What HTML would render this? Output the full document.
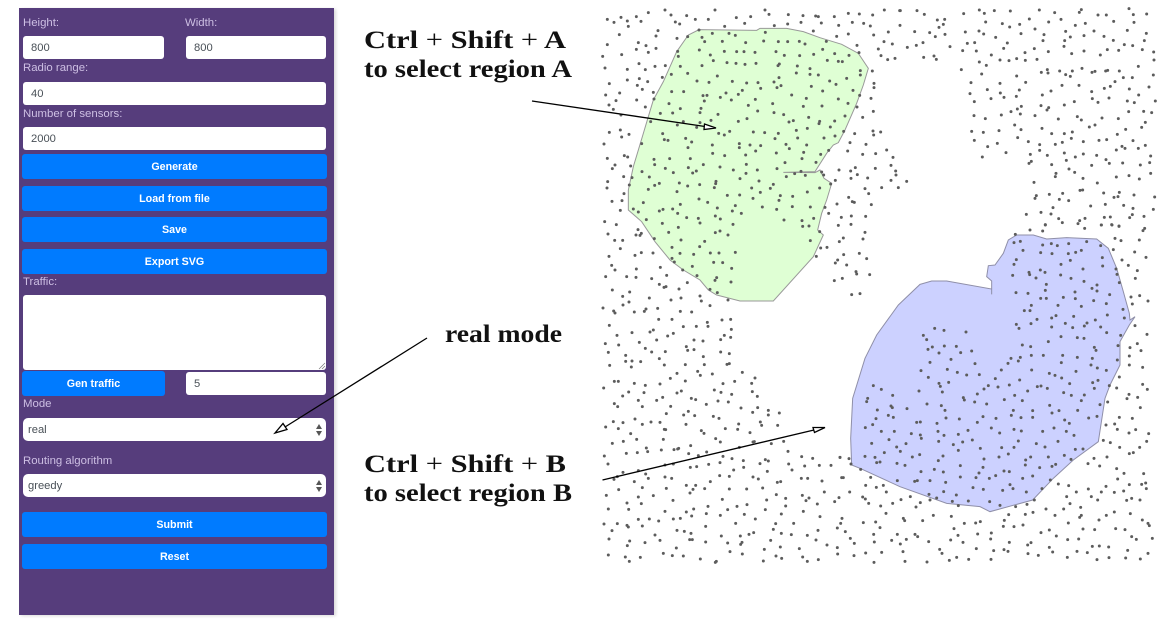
<!DOCTYPE html>
<html><head><meta charset="utf-8"><style>
html,body{margin:0;padding:0;background:#fff}
body{width:1166px;height:624px;position:relative;overflow:hidden;font-family:"Liberation Sans",sans-serif}
.p{position:absolute;left:19px;top:8px;width:315px;height:607px;background:#563d7c;box-shadow:2px 1px 3px rgba(0,0,0,.15)}
.l,.i,.b,.s,.t{position:absolute;box-sizing:border-box}
.l{color:#cdbfe3;font-size:11.4px;line-height:14px;white-space:nowrap;margin-top:1px}
.i,.s,.t{background:#fff;border-radius:3px;color:#495057;font-size:11.2px;height:23px;line-height:25px}
.i{padding-left:8px}
.s{padding-left:5px;border-radius:5px;left:23px;width:303px}
.b{background:#007bff;color:#fff;border-radius:3px;font-size:10.7px;font-weight:bold;text-align:center;height:25px;line-height:27px;left:22px;width:305px}
.up,.dn{position:absolute;right:4px;width:0;height:0;border-left:3px solid transparent;border-right:3px solid transparent}
.up{top:6px;border-bottom:5px solid #555}.dn{top:13px;border-top:5px solid #555}
svg{position:absolute;left:0;top:0}
</style></head><body>
<div class="p"></div>
<div class="l" style="left:23px;top:15px">Height:</div>
<div class="l" style="left:185px;top:15px">Width:</div>
<div class="i" style="left:23px;top:36px;width:141px">800</div>
<div class="i" style="left:186px;top:36px;width:140px">800</div>
<div class="l" style="left:23px;top:60px">Radio range:</div>
<div class="i" style="left:23px;top:82px;width:303px">40</div>
<div class="l" style="left:23px;top:106px">Number of sensors:</div>
<div class="i" style="left:23px;top:127px;width:303px">2000</div>
<div class="b" style="top:154px">Generate</div>
<div class="b" style="top:186px">Load from file</div>
<div class="b" style="top:217px">Save</div>
<div class="b" style="top:249px">Export SVG</div>
<div class="l" style="left:23px;top:274px">Traffic:</div>
<div class="t" style="left:23px;top:295px;width:303px;height:75px"></div>
<div class="b" style="top:371px;width:143px">Gen traffic</div>
<div class="i" style="left:186px;top:372px;width:140px">5</div>
<div class="l" style="left:23px;top:396px">Mode</div>
<div class="s" style="top:418px">real<span class="up"></span><span class="dn"></span></div>
<div class="l" style="left:23px;top:453px">Routing algorithm</div>
<div class="s" style="top:474px">greedy<span class="up"></span><span class="dn"></span></div>
<div class="b" style="top:512px">Submit</div>
<div class="b" style="top:544px">Reset</div>

<svg width="1166" height="624" viewBox="0 0 1166 624">
<path d="M319 369L325 363M322 369L325 366" stroke="#777" stroke-width=".7" fill="none"/>
<g transform="translate(600,0) scale(.33333)">
<polygon fill="#dfffd4" stroke="#999" stroke-width="3" points="297,89 470,91 480,85 560,85 610,95 660,113 725,133 775,160 805,205 790,255 770,310 735,390 715,428 700,435 680,460 645,515 550,517 645,518 660,510 672,535 695,550 680,600 665,640 653,690 670,705 640,770 520,903 420,903 350,885 325,870 300,840 250,810 210,780 165,725 125,665 85,630 85,570 100,500 130,400 160,300 190,245 230,155 265,105"/>
<path fill="none" stroke="#5c5c5c" stroke-width="9" stroke-linecap="round" d="M345 30h0M195 30h0M495 30h0M507 43h0M213 45h0M260 47h0M145 38h0M22 58h0M42 67h0M63 52h0M82 63h0M85 79h0M109 50h0M123 64h0M226 66h0M239 72h0M286 58h0M325 58h0M409 53h0M452 50h0M434 70h0M374 79h0M523 77h0M565 44h0M563 72h0M609 47h0M603 67h0M647 48h0M655 50h0M664 69h0M703 50h0M716 76h0M745 40h0M778 42h0M757 67h0M791 70h0M811 78h0M818 45h0M853 30h0M899 32h0M174 92h0M168 108h0M58 104h0M297 90h0M640 93h0M710 109h0M745 102h0M821 105h0M865 96h0M306 112h0M337 100h0M387 100h0M406 106h0M496 97h0M231 115h0M263 110h0M314 125h0M367 124h0M437 128h0M491 123h0M535 125h0M563 125h0M598 124h0M615 132h0M679 124h0M771 136h0M852 125h0M877 132h0M22 134h0M115 128h0M138 137h0M109 148h0M168 145h0M145 157h0M233 154h0M298 150h0M373 154h0M410 155h0M432 155h0M465 157h0M528 155h0M553 166h0M599 167h0M641 163h0M668 148h0M704 161h0M747 166h0M777 158h0M835 147h0M843 167h0M863 179h0M885 175h0M8 169h0M65 164h0M235 169h0M331 165h0M340 182h0M381 188h0M408 190h0M435 193h0M468 190h0M538 192h0M534 197h0M592 198h0M682 181h0M715 184h0M727 185h0M117 191h0M165 199h0M196 197h0M241 199h0M306 197h0M15 204h0M82 208h0M136 209h0M630 206h0M589 219h0M630 223h0M655 225h0M781 212h0M781 225h0M817 213h0M214 223h0M263 220h0M352 228h0M187 232h0M537 233h0M740 235h0M82 240h0M118 236h0M143 245h0M291 243h0M327 247h0M397 244h0M440 249h0M474 248h0M522 246h0M689 243h0M708 253h0M822 250h0M822 263h0M28 251h0M112 256h0M127 268h0M543 257h0M531 263h0M482 265h0M634 259h0M160 277h0M215 275h0M251 275h0M427 271h0M668 273h0M759 271h0M17 285h0M59 279h0M162 297h0M309 287h0M321 286h0M378 279h0M415 283h0M361 292h0M575 285h0M779 286h0M48 302h0M110 300h0M313 303h0M394 300h0M466 298h0M619 295h0M715 297h0M813 295h0M27 315h0M136 321h0M207 311h0M445 316h0M518 311h0M610 319h0M666 318h0M744 310h0M771 321h0M40 328h0M241 326h0M303 325h0M300 338h0M473 333h0M522 338h0M551 344h0M820 334h0M181 340h0M218 339h0M354 343h0M626 352h0M735 348h0M788 352h0M63 345h0M152 365h0M250 365h0M333 361h0M441 356h0M415 364h0M567 366h0M580 362h0M659 364h0M657 371h0M704 363h0M232 375h0M300 368h0M290 382h0M691 381h0M622 385h0M61 390h0M28 397h0M87 403h0M65 411h0M188 401h0M356 400h0M373 405h0M389 394h0M460 396h0M494 398h0M535 400h0M589 391h0M731 394h0M764 401h0M819 393h0M821 405h0M842 396h0M193 419h0M204 421h0M257 415h0M275 426h0M525 416h0M593 414h0M672 414h0M705 408h0M12 432h0M125 431h0M264 443h0M337 435h0M418 431h0M450 435h0M482 437h0M418 443h0M558 433h0M568 446h0M620 435h0M750 428h0M798 433h0M860 450h0M743 453h0M467 453h0M338 460h0M374 467h0M529 459h0M611 457h0M686 451h0M437 465h0M662 463h0M788 463h0M827 461h0M879 472h0M22 475h0M73 467h0M83 471h0M162 478h0M209 476h0M271 476h0M606 476h0M45 495h0M37 506h0M164 494h0M92 498h0M196 505h0M265 503h0M310 494h0M360 501h0M439 493h0M555 488h0M648 487h0M873 496h0M126 515h0M220 518h0M278 519h0M289 513h0M400 510h0M438 520h0M472 510h0M531 506h0M603 514h0M665 516h0M717 510h0M752 513h0M766 503h0M826 505h0M887 513h0M888 525h0M71 530h0M148 531h0M96 533h0M559 530h0M584 521h0M616 526h0M671 525h0M772 524h0M753 535h0M803 534h0M420 536h0M23 545h0M873 541h0M477 543h0M348 544h0M347 551h0M343 563h0M238 549h0M178 550h0M164 556h0M88 555h0M263 558h0M299 554h0M520 553h0M511 565h0M455 564h0M706 541h0M692 552h0M659 564h0M21 564h0M145 568h0M845 563h0M895 563h0M795 566h0M231 575h0M481 577h0M622 576h0M72 581h0M382 586h0M419 585h0M541 587h0M578 589h0M806 581h0M297 597h0M459 595h0M537 601h0M36 604h0M66 602h0M130 608h0M323 607h0M241 613h0M406 617h0M746 592h0M757 605h0M763 607h0M711 612h0M814 614h0M487 621h0M577 620h0M631 621h0M675 622h0M352 624h0M100 627h0M218 627h0M189 628h0M178 633h0M61 631h0M115 636h0M530 628h0M397 633h0M233 640h0M424 640h0M686 640h0M346 648h0M361 657h0M260 653h0M295 655h0M139 659h0M552 660h0M606 662h0M641 655h0M724 652h0M754 648h0M797 649h0M14 665h0M187 670h0M300 669h0M399 673h0M49 674h0M235 682h0M608 679h0M627 678h0M715 676h0M753 673h0M114 689h0M206 697h0M346 698h0M360 693h0M384 705h0M659 695h0M795 697h0M24 702h0M108 705h0M124 700h0M120 706h0M163 716h0M243 720h0M314 724h0M631 722h0M44 721h0M68 721h0M730 714h0M718 725h0M789 717h0M299 740h0M216 742h0M61 746h0M662 744h0M681 742h0M124 758h0M159 759h0M240 760h0M281 763h0M331 759h0M357 759h0M406 757h0M105 766h0M27 769h0M649 769h0M731 764h0M778 760h0M216 775h0M800 776h0M223 786h0M341 787h0M368 788h0M713 780h0M706 789h0M35 796h0M45 810h0M109 807h0M181 802h0M277 799h0M395 805h0M740 795h0M248 810h0M768 815h0M770 822h0M809 824h0M17 830h0M80 830h0M108 832h0M155 836h0M200 826h0M291 827h0M350 833h0M345 841h0M727 835h0M703 842h0M262 848h0M393 846h0M178 853h0M198 860h0M192 862h0M37 870h0M237 867h0M330 868h0M89 876h0M352 878h0M755 884h0M780 881h0M68 889h0M148 894h0M243 894h0M300 888h0M213 900h0M304 903h0M384 900h0M87 906h0M69 915h0M330 917h0M9 924h0M138 927h0M173 925h0"/>
</g>
<g transform="translate(840,225) scale(.33333)">
<polygon fill="#ccd1ff" stroke="#8f8fa8" stroke-width="3" points="240,178 275,168 320,168 455,192 455,208 455,168 440,155 445,122 465,120 490,85 505,45 530,30 580,30 620,42 680,38 770,42 805,70 830,130 850,200 868,265 870,285 885,275 868,300 840,350 840,420 810,480 795,520 775,650 700,705 640,760 578,825 450,860 420,845 320,835 180,785 60,730 35,720 32,640 38,520 75,400 110,330 175,240"/>
<path fill="none" stroke="#5c5c5c" stroke-width="9" stroke-linecap="round" d="M526 28h0M570 15h0M608 18h0M734 10h0M616 0h0M784 0h0M816 0h0M837 4h0M914 10h0M909 17h0M825 40h0M843 47h0M898 45h0M740 50h0M884 81h0M918 97h0M820 74h0M846 105h0M865 121h0M892 137h0M886 160h0M873 216h0M899 212h0M924 228h0M877 237h0M885 302h0M921 328h0M522 53h0M541 49h0M549 76h0M608 60h0M634 56h0M652 62h0M686 56h0M782 62h0M602 83h0M636 86h0M685 86h0M707 82h0M724 76h0M787 98h0M529 104h0M522 118h0M663 118h0M691 106h0M788 123h0M828 132h0M729 132h0M601 135h0M567 142h0M569 149h0M615 142h0M518 151h0M588 159h0M662 150h0M693 160h0M831 148h0M838 173h0M732 169h0M619 178h0M771 180h0M616 196h0M756 190h0M771 198h0M528 203h0M564 205h0M705 201h0M809 209h0M602 220h0M619 220h0M670 217h0M706 221h0M761 227h0M799 236h0M574 241h0M654 241h0M724 244h0M553 257h0M570 257h0M849 253h0M802 270h0M853 279h0M648 272h0M635 279h0M701 274h0M591 283h0M766 285h0M741 294h0M733 303h0M676 295h0M698 308h0M782 306h0M573 296h0M529 298h0M537 310h0M635 306h0M800 323h0M842 331h0M663 335h0M712 338h0M732 340h0M625 350h0M284 310h0M312 316h0M378 321h0M250 331h0M260 344h0M277 366h0M264 373h0M313 363h0M349 364h0M362 383h0M395 378h0M297 384h0M547 360h0M572 365h0M834 362h0M763 367h0M768 376h0M870 368h0M892 356h0M903 377h0M574 391h0M610 391h0M668 391h0M712 397h0M757 400h0M541 397h0M513 400h0M333 403h0M270 412h0M405 416h0M504 415h0M535 408h0M664 413h0M832 405h0M868 393h0M868 420h0M753 420h0M772 429h0M908 427h0M322 433h0M243 437h0M352 442h0M380 450h0M418 449h0M484 435h0M575 435h0M628 445h0M645 451h0M665 459h0M708 439h0M799 436h0M265 457h0M466 461h0M539 465h0M838 456h0M297 475h0M326 472h0M301 484h0M100 482h0M124 493h0M237 498h0M307 501h0M445 482h0M432 492h0M474 486h0M508 480h0M592 485h0M603 483h0M622 490h0M563 498h0M671 503h0M689 476h0M758 473h0M774 466h0M763 490h0M808 482h0M830 489h0M908 478h0M922 493h0M412 507h0M524 511h0M694 511h0M733 510h0M158 511h0M867 508h0M893 517h0M861 521h0M83 520h0M80 530h0M370 518h0M373 525h0M404 531h0M440 537h0M493 524h0M547 527h0M724 527h0M803 531h0M261 537h0M304 542h0M780 539h0M112 555h0M153 543h0M157 548h0M201 551h0M315 556h0M629 541h0M657 557h0M636 564h0M520 556h0M578 557h0M713 556h0M901 548h0M145 571h0M160 577h0M108 581h0M318 579h0M429 575h0M358 582h0M468 580h0M514 571h0M543 578h0M578 577h0M746 579h0M771 574h0M838 577h0M877 580h0M230 592h0M241 591h0M98 599h0M291 595h0M412 592h0M674 585h0M688 595h0M798 600h0M824 597h0M76 608h0M454 609h0M522 613h0M544 618h0M642 609h0M832 613h0M887 614h0M124 619h0M163 619h0M214 626h0M294 619h0M384 616h0M479 624h0M608 619h0M679 619h0M702 631h0M867 624h0M926 626h0M241 630h0M312 631h0M355 628h0M244 640h0M147 644h0M397 645h0M535 648h0M654 649h0M790 646h0M811 653h0M296 649h0M368 651h0M95 655h0M198 656h0M340 659h0M615 666h0M589 656h0M421 670h0M485 668h0M522 667h0M706 673h0M729 672h0M170 666h0M355 676h0M181 679h0M133 683h0M880 683h0M868 686h0M839 667h0M899 667h0M920 649h0M239 689h0M217 696h0M309 693h0M75 694h0M105 697h0M477 696h0M505 687h0M572 696h0M625 696h0M673 691h0M762 700h0M801 696h0M0 697h0M27 701h0M432 702h0M295 707h0M557 705h0M693 703h0M110 713h0M120 711h0M33 717h0M171 715h0M195 721h0M361 722h0M556 720h0M636 724h0M647 718h0M599 728h0M744 716h0M779 723h0M830 731h0M429 727h0M283 733h0M62 733h0M243 740h0M310 741h0M492 738h0M508 740h0M417 744h0M852 745h0M911 746h0M5 758h0M10 758h0M92 757h0M361 756h0M408 758h0M448 760h0M467 752h0M548 760h0M578 753h0M172 767h0M224 769h0M232 767h0M270 767h0M317 772h0M631 765h0M833 762h0M77 781h0M109 787h0M130 781h0M510 779h0M519 791h0M399 788h0M430 793h0M488 796h0M655 777h0M686 782h0M606 791h0M798 784h0M868 779h0M905 778h0M917 774h0M919 791h0M29 801h0M139 801h0M311 800h0M559 801h0M709 801h0M745 792h0M784 801h0M823 802h0M851 798h0M267 808h0M349 810h0M68 816h0M76 822h0M290 819h0M211 815h0M680 815h0M754 815h0M183 824h0M270 825h0M337 829h0M385 828h0M449 830h0M583 825h0M773 825h0M860 826h0M875 820h0M900 825h0M86 835h0M158 835h0M241 833h0M228 846h0M122 843h0M355 842h0M480 841h0M527 845h0M561 838h0M618 852h0M690 836h0M671 852h0M722 847h0M138 865h0M280 871h0M334 874h0M506 869h0M579 862h0M645 871h0M724 871h0M719 877h0M823 861h0M799 871h0M871 866h0M6 880h0M2 895h0M70 893h0M107 891h0M190 880h0M194 887h0M248 887h0M373 895h0M407 894h0M421 890h0M493 886h0M556 868h0M685 894h0M777 885h0M907 885h0M924 895h0"/>
</g>
<g transform="translate(840,500) scale(.33333)">
<path fill="none" stroke="#5c5c5c" stroke-width="9" stroke-linecap="round" d="M490 79h0M522 80h0M549 75h0M120 83h0M342 86h0M628 90h0M729 87h0M764 89h0M827 86h0M855 89h0M928 77h0M16 95h0M101 103h0M172 103h0M225 103h0M233 110h0M354 106h0M413 102h0M454 99h0M603 98h0M649 108h0M31 115h0M155 121h0M199 118h0M266 125h0M332 120h0M452 117h0M683 119h0M716 117h0M875 110h0M889 118h0M937 115h0M43 130h0M103 126h0M181 132h0M369 127h0M508 127h0M563 135h0M573 128h0M628 142h0M757 139h0M778 138h0M806 141h0M299 148h0M409 146h0M492 149h0M504 154h0M461 152h0M306 160h0M77 159h0M125 157h0M189 155h0M638 156h0M711 154h0M742 158h0M863 151h0M924 160h0M42 167h0M564 161h0M595 166h0M350 172h0M682 172h0M807 173h0M857 174h0M901 177h0M328 181h0M386 178h0M453 178h0M771 179h0M102 187h0M195 184h0M261 186h0"/>
</g>
<g transform="translate(900,0) scale(.33333)">
<path fill="none" stroke="#5c5c5c" stroke-width="9" stroke-linecap="round" d="M1 32h0M51 32h0M73 43h0M112 60h0M134 58h0M130 73h0M117 82h0M0 76h0M44 95h0M89 98h0M106 110h0M135 103h0M22 142h0M49 136h0M69 128h0M150 140h0M71 172h0M102 168h0M109 178h0M191 41h0M238 30h0M253 40h0M283 32h0M331 33h0M257 66h0M307 71h0M329 81h0M359 73h0M388 57h0M418 30h0M464 38h0M446 66h0M483 58h0M538 37h0M544 29h0M526 76h0M556 70h0M594 45h0M619 45h0M641 64h0M687 26h0M700 44h0M740 42h0M702 67h0M196 96h0M237 93h0M251 102h0M287 112h0M363 101h0M405 87h0M432 104h0M497 94h0M511 111h0M552 107h0M582 93h0M612 109h0M682 91h0M739 100h0M202 130h0M224 128h0M322 129h0M429 122h0M494 122h0M640 121h0M733 122h0M188 152h0M229 153h0M311 145h0M403 146h0M375 158h0M445 155h0M492 139h0M515 161h0M552 153h0M622 149h0M656 151h0M673 134h0M698 137h0M727 149h0M761 156h0M274 165h0M601 165h0M238 186h0M259 196h0M300 180h0M327 182h0M350 176h0M376 181h0M411 178h0M762 180h0M184 209h0M245 222h0M350 228h0M424 217h0M442 209h0M444 219h0M479 213h0M497 224h0M511 229h0M517 213h0M546 205h0M576 217h0M585 214h0M617 213h0M623 211h0M658 213h0M715 199h0M760 225h0M670 233h0M697 233h0M213 248h0M300 250h0M377 247h0M645 245h0M486 256h0M537 256h0M631 259h0M613 265h0M262 269h0M358 270h0M453 273h0M575 275h0M688 267h0M747 261h0M210 281h0M301 279h0M427 285h0M312 292h0M349 289h0M716 285h0M273 296h0M577 296h0M627 294h0M223 305h0M523 305h0M594 307h0M682 303h0M703 308h0M766 303h0M423 317h0M493 315h0M364 319h0M352 327h0M446 323h0M441 330h0M333 335h0M686 335h0M731 334h0M755 338h0M222 347h0M304 345h0M361 342h0M405 347h0M532 350h0M256 356h0M475 357h0M544 360h0M606 354h0M655 356h0M736 367h0M344 375h0M585 375h0M568 381h0M426 385h0M363 389h0M677 388h0M725 382h0M215 394h0M250 397h0M297 392h0M455 401h0M493 401h0M517 396h0M652 403h0M223 421h0M353 413h0M514 415h0M385 425h0M292 430h0M263 440h0M419 434h0M466 433h0M487 427h0M550 425h0M597 421h0M620 419h0M699 422h0M666 439h0M675 445h0M649 450h0M715 445h0M736 436h0M318 458h0M391 463h0M419 451h0M442 466h0M493 459h0M247 471h0M526 471h0M550 462h0M590 466h0M752 468h0M499 481h0M394 484h0M387 490h0M618 479h0M628 490h0M668 489h0M455 494h0M575 496h0M721 495h0M749 488h0M507 507h0M524 517h0M468 520h0M466 530h0M549 535h0M649 531h0M687 527h0M718 537h0M752 520h0M402 547h0M592 549h0M20 544h0M540 571h0M548 570h0M611 579h0M658 577h0M702 585h0M448 583h0M488 580h0M409 587h0M405 595h0M478 598h0M506 602h0M642 592h0M654 590h0M764 591h0M459 623h0M572 618h0M616 613h0M671 616h0M699 625h0M760 628h0M379 643h0M423 637h0M453 642h0M697 644h0M613 652h0M631 651h0M689 653h0M732 649h0M476 656h0M555 655h0M539 662h0M487 668h0M534 671h0M436 674h0M604 675h0M635 674h0M657 678h0"/>
</g>
<g transform="translate(600,305) scale(.33333)">
<path fill="none" stroke="#5c5c5c" stroke-width="9" stroke-linecap="round" d="M41 18h0M45 24h0M103 21h0M133 19h0M241 19h0M275 21h0M176 43h0M216 43h0M322 52h0M366 45h0M392 43h0M28 61h0M250 65h0M289 64h0M324 64h0M394 73h0M150 81h0M160 75h0M96 83h0M51 91h0M203 93h0M220 85h0M373 91h0M392 97h0M362 104h0M170 105h0M118 112h0M282 105h0M309 108h0M16 116h0M56 120h0M259 125h0M136 130h0M263 136h0M282 134h0M25 142h0M155 141h0M196 140h0M362 141h0M388 146h0M77 151h0M310 155h0M178 161h0M77 169h0M96 168h0M122 170h0M29 181h0M94 186h0M193 180h0M256 179h0M313 179h0M381 178h0M388 176h0M293 199h0M301 211h0M427 202h0M231 205h0M337 207h0M211 220h0M465 219h0M43 229h0M55 229h0M103 235h0M136 241h0M180 237h0M256 228h0M369 236h0M404 229h0M455 235h0M11 249h0M86 261h0M132 263h0M231 264h0M244 258h0M343 255h0M363 262h0M395 268h0M457 260h0M68 273h0M472 274h0M115 286h0M170 286h0M188 277h0M274 280h0M287 284h0M354 288h0M385 291h0M43 296h0M53 305h0M127 305h0M212 304h0M319 298h0M423 309h0M473 308h0M505 316h0M265 319h0M199 326h0M251 330h0M284 332h0M340 334h0M357 340h0M458 322h0M505 330h0M538 324h0M105 342h0M40 350h0M69 353h0M127 358h0M153 351h0M180 352h0M258 358h0M481 351h0M485 361h0M416 357h0M533 361h0M17 366h0M55 371h0M193 373h0M197 374h0M304 377h0M376 371h0M413 373h0M92 386h0M312 385h0M450 383h0M110 403h0M190 403h0M347 401h0M37 415h0M70 409h0M361 411h0M272 422h0M459 411h0M463 410h0M514 416h0M551 409h0M418 427h0M139 429h0M143 440h0M184 435h0M222 434h0M233 432h0M236 430h0M79 445h0M112 443h0M266 446h0M320 441h0M564 439h0M13 453h0M295 452h0M369 454h0M605 455h0M638 460h0M720 457h0M396 461h0M430 467h0M496 464h0M505 468h0M360 473h0M480 476h0M24 477h0M326 478h0M220 477h0M195 480h0M566 477h0M614 483h0M658 481h0M693 481h0M271 487h0M290 485h0M431 487h0M576 495h0M401 495h0M115 497h0M69 502h0M502 499h0M137 507h0M52 515h0M145 520h0M195 516h0M215 520h0M359 512h0M388 514h0M459 516h0M475 522h0M604 520h0M623 520h0M42 523h0M103 530h0M331 530h0M532 532h0M542 530h0M666 528h0M259 541h0M287 541h0M127 548h0M199 550h0M279 553h0M314 551h0M388 552h0M440 552h0M488 549h0M56 554h0M270 564h0M673 561h0M19 571h0M160 572h0M115 576h0M529 569h0M607 571h0M367 583h0M219 586h0M500 585h0M557 580h0M627 579h0M618 587h0M717 578h0M704 590h0M81 594h0M124 596h0M441 599h0M652 597h0M25 612h0M86 613h0M281 612h0M324 604h0M383 614h0M411 604h0M496 614h0M557 603h0M195 619h0M259 621h0M610 619h0M319 626h0M433 628h0M544 627h0M275 633h0M361 631h0M660 635h0M115 643h0M148 642h0M176 648h0M220 642h0M241 640h0M466 642h0M12 657h0M52 656h0M81 661h0M85 666h0M127 663h0M317 664h0M407 655h0M527 656h0M581 655h0M712 669h0M36 677h0M231 676h0M253 679h0M273 685h0M520 673h0M654 676h0M165 690h0M364 693h0M421 693h0M447 688h0M461 683h0M544 685h0M574 689h0M622 691h0M27 702h0M269 704h0M277 704h0M180 706h0M89 708h0M135 713h0M317 711h0M383 714h0M426 712h0M422 718h0M512 706h0M648 705h0M82 722h0M681 720h0M229 729h0M493 733h0M541 726h0M598 731h0M712 728h0M390 740h0M25 750h0M190 745h0M217 752h0M250 753h0M427 747h0M713 747h0M528 753h0M76 756h0M121 757h0M608 756h0M301 762h0M545 760h0M88 769h0M349 769h0M346 772h0M490 768h0M622 769h0M655 764h0"/>
</g>
<g stroke="#000" stroke-width="1.3" fill="none">
<path d="M532 101L705 126.5"/><path d="M716 128L704.500 124L704 129.500Z" fill="#fff"/>
<path d="M602.500 480L814 430"/><path d="M825 427.500L813 427.500L814.500 432.500Z" fill="#fff"/>
<path d="M427 338L285 427"/><path d="M275 433L283 423.500L287 429.500Z" fill="#fff"/>
</g>
<g font-family="'Liberation Serif',serif" font-size="25" font-weight="bold" fill="#111">
<text x="364" y="48" textLength="202" lengthAdjust="spacingAndGlyphs">Ctrl <tspan font-weight="normal">+</tspan> Shift <tspan font-weight="normal">+</tspan> A</text>
<text x="364" y="77" textLength="208" lengthAdjust="spacingAndGlyphs">to select region A</text>
<text x="445" y="342" textLength="117" lengthAdjust="spacingAndGlyphs">real mode</text>
<text x="364" y="472" textLength="202" lengthAdjust="spacingAndGlyphs">Ctrl <tspan font-weight="normal">+</tspan> Shift <tspan font-weight="normal">+</tspan> B</text>
<text x="364" y="501" textLength="208" lengthAdjust="spacingAndGlyphs">to select region B</text>
</g>
</svg>
</body></html>
